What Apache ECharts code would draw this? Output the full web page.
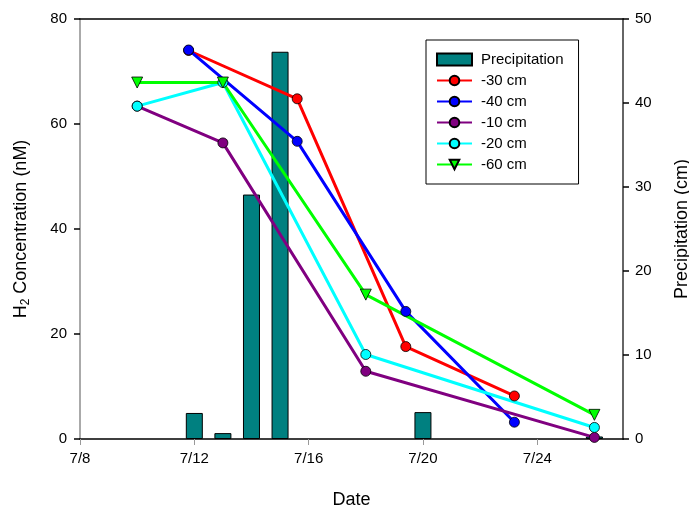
<!DOCTYPE html>
<html>
<head>
<meta charset="utf-8">
<script src="https://cdn.jsdelivr.net/npm/echarts@6/dist/echarts.min.js"></script>
<style>html,body{margin:0;padding:0;background:#fff}#c{width:689px;height:508px}</style>
</head>
<body>
<div id="c"></div>
<script>
// Day of July
const xTicks = [8, 12, 16, 20, 24];
const precipDays = [12, 13, 14, 15, 20, 26];
const precipValues = [3.1, 0.7, 29.1, 46.1, 3.2, 0.3];

const d30Days = [11.8, 15.6, 19.4, 23.2];
const d30 = [74.0, 64.8, 17.6, 8.2];
const d40Days = [11.8, 15.6, 19.4, 23.2];
const d40 = [74.1, 56.7, 24.3, 3.2];
const d10Days = [10, 13, 18, 26];
const d10 = [63.4, 56.4, 12.9, 0.3];
const d20Days = [10, 13, 18, 26];
const d20 = [63.4, 67.9, 16.1, 2.2];
const d60Days = [10, 13, 18, 26];
const d60 = [67.9, 67.9, 27.5, 4.6];

const zip = (a, b) => a.map((v, i) => [v, b[i]]);
const FONT = 'Liberation Sans, Arial, sans-serif';

function lineSeries(name, days, vals, color, symbol) {
  return {
    name, type: 'line', data: zip(days, vals), yAxisIndex: 0,
    lineStyle: { color, width: 3 },
    itemStyle: { color, borderColor: '#000', borderWidth: 0.8 },
    symbol: symbol || 'circle',
    symbolSize: symbol ? 11 : 10,
    symbolRotate: symbol ? 180 : 0,
    showAllSymbol: true,
    animation: false
  };
}

const chart = echarts.init(document.getElementById('c'));
chart.setOption({
  animation: false,
  backgroundColor: '#fff',
  textStyle: { fontFamily: FONT },
  grid: { left: 80, right: 66, top: 19, bottom: 69, containLabel: false, outerBoundsMode: 'none' },
  legend: {
    left: 426, top: 40,
    orient: 'vertical',
    backgroundColor: '#fff',
    borderColor: '#000', borderWidth: 1, borderRadius: 0,
    padding: [9, 15, 9, 10],
    itemWidth: 35, itemHeight: 12, itemGap: 0,
    textStyle: { fontSize: 15, color: '#000', lineHeight: 21, padding: [0, 0, 0, 4], fontFamily: FONT },
    data: [{ name: 'Precipitation', icon: 'rect' }, '-30 cm', '-40 cm', '-10 cm', '-20 cm', '-60 cm']
  },
  xAxis: [{
    type: 'value', min: 8, max: 27, interval: 4,
    name: 'Date', nameLocation: 'middle', nameGap: 52,
    nameTextStyle: { fontSize: 18, color: '#000', fontFamily: FONT },
    axisLine: { onZero: false, lineStyle: { color: '#000', width: 1.5 } },
    axisTick: { show: true, length: 6, lineStyle: { color: '#999' }, customValues: xTicks },
    axisLabel: { fontSize: 15, color: '#000', margin: 12, formatter: v => '7/' + v, customValues: xTicks },
    splitLine: { show: false }
  }, {
    type: 'value', min: 8, max: 27, position: 'top',
    axisLine: { show: true, onZero: false, lineStyle: { color: '#000', width: 1.5 } },
    axisTick: { show: false }, axisLabel: { show: false }, splitLine: { show: false }
  }],
  yAxis: [{
    type: 'value', min: 0, max: 80, interval: 20, position: 'left',
    name: 'H{sub|2} Concentration (nM)', nameLocation: 'middle', nameGap: 48, nameRotate: 90,
    nameTextStyle: { fontSize: 18, color: '#000', fontFamily: FONT,
      rich: { sub: { fontSize: 12, verticalAlign: 'bottom', padding: [9, 0, 0, 0], fontFamily: FONT } } },
    axisLine: { show: true, onZero: false, lineStyle: { color: '#aaa', width: 2 } },
    axisTick: { show: true, length: 6, lineStyle: { color: '#000', width: 1.5 } },
    axisLabel: { fontSize: 15, color: '#000', margin: 13 },
    splitLine: { show: false }
  }, {
    type: 'value', min: 0, max: 50, interval: 10, position: 'right',
    name: 'Precipitation (cm)', nameLocation: 'middle', nameGap: 50, nameRotate: 90,
    nameTextStyle: { fontSize: 18, color: '#000', fontFamily: FONT },
    axisLine: { show: true, onZero: false, lineStyle: { color: '#666', width: 2 } },
    axisTick: { show: true, length: 6, lineStyle: { color: '#000', width: 1.5 } },
    axisLabel: { fontSize: 15, color: '#000', margin: 12 },
    splitLine: { show: false }
  }],
  series: [
    {
      name: 'Precipitation', type: 'bar', yAxisIndex: 1,
      data: zip(precipDays, precipValues), barWidth: 17,
      itemStyle: { color: '#008080', borderColor: '#000', borderWidth: 1 }
    },
    lineSeries('-30 cm', d30Days, d30, '#ff0000'),
    lineSeries('-40 cm', d40Days, d40, '#0000ff'),
    lineSeries('-10 cm', d10Days, d10, '#800080'),
    lineSeries('-20 cm', d20Days, d20, '#00ffff'),
    lineSeries('-60 cm', d60Days, d60, '#00ff00', 'triangle')
  ]
});
</script>
</body>
</html>
